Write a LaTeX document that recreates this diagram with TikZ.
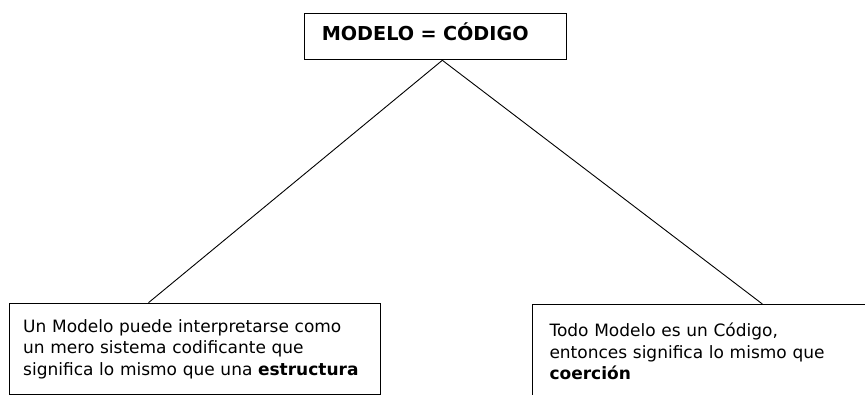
\documentclass[tikz,border=0pt]{standalone}
\usepackage{fontspec}
\setmainfont{DejaVu Sans}

\begin{document}
\begin{tikzpicture}[x=1pt,y=-1pt,
  box/.style={draw,line width=1pt,rectangle,anchor=north west,align=left,
    font=\fontsize{17pt}{21.5pt}\selectfont},
  link/.style={line width=0.9pt}]
\useasboundingbox (0,0) rectangle (865,395);
\node[box,inner xsep=17pt,text width=227.7pt,inner ysep=8pt,text height=18.7pt,text depth=11.3pt,
  font=\fontsize{19.2pt}{22pt}\selectfont\bfseries] (title) at (304.3,13.3) {MODELO = CÓDIGO};
\node[box,inner xsep=13.7pt,text width=343.6pt,minimum height=91.3pt] (modelo) at (9,302.7)
  {Un Modelo puede interpretarse como\\ un mero sistema codificante que\\ significa lo mismo que una \textbf{estructura}};
\node[box,inner xsep=16.7pt,text width=334.3pt,minimum height=94pt] (codigo) at (532.3,304)
  {Todo Modelo es un Código,\\ entonces significa lo mismo que\\ \textbf{coerción}};
\coordinate (apex) at ([xshift=6.7pt]title.south);
\draw[link] (apex) -- ([xshift=-46.5pt]modelo.north);
\draw[link] (apex) -- ([xshift=45.7pt]codigo.north);
\end{tikzpicture}
\end{document}
